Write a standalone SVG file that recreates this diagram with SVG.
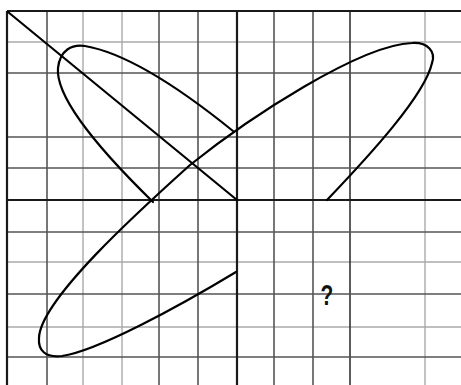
<svg xmlns="http://www.w3.org/2000/svg" width="461" height="385" viewBox="0 0 461 385">
<style>
.g1{stroke:#1a1a1a;stroke-width:2.2}
.g2{stroke:#555;stroke-width:1.6}
.g3{stroke:#aaa;stroke-width:1.4}
.c{fill:none;stroke:#000;stroke-width:2.2;stroke-linecap:round;stroke-linejoin:round}
</style>
<rect width="461" height="385" fill="#fff"/>
<g id="grid">
<line class="g3" x1="83" y1="11" x2="83" y2="385"/>
<line class="g3" x1="122" y1="11" x2="122" y2="385"/>
<line class="g3" x1="425" y1="11" x2="425" y2="385"/>
<line class="g3" x1="7" y1="42" x2="461" y2="42"/>
<line class="g3" x1="7" y1="262" x2="461" y2="262"/>
<line class="g3" x1="7" y1="327" x2="461" y2="327"/>
<line class="g2" x1="47" y1="11" x2="47" y2="385"/>
<line class="g2" x1="159" y1="11" x2="159" y2="385"/>
<line class="g2" x1="198" y1="11" x2="198" y2="385"/>
<line class="g2" x1="274" y1="11" x2="274" y2="385"/>
<line class="g2" x1="313" y1="11" x2="313" y2="385"/>
<line class="g2" x1="350" y1="11" x2="350" y2="385" style="stroke:#333"/>
<line class="g2" x1="7" y1="73" x2="461" y2="73"/>
<line class="g2" x1="7" y1="137" x2="461" y2="137"/>
<line class="g2" x1="7" y1="168" x2="461" y2="168"/>
<line class="g2" x1="7" y1="232" x2="461" y2="232"/>
<line class="g2" x1="7" y1="294" x2="461" y2="294"/>
<line class="g2" x1="7" y1="357" x2="461" y2="357"/>
<line class="g1" x1="7" y1="11" x2="7" y2="385"/>
<line class="g1" x1="237" y1="11" x2="237" y2="385"/>
<line class="g1" x1="7" y1="11" x2="461" y2="11"/>
<line class="g1" x1="7" y1="200" x2="461" y2="200"/>
</g>
<g id="curves">
<path class="c" d="M8,12 L237,200"/>
<path class="c" d="M153,202 C 110,160 55,100 58,68 C 60,50 72,44 85,46 C 120,52 170,80 233,131"/>
<path class="c" d="M236,272 C 178,307 97,351 62,356 C 45,358 38,350 39,338 C 40,300 140,210 190,165 C 250,117 360,45 412,43 C 428,42 436,52 432,63 C 425,95 370,155 327,200"/>
</g>
<g id="label">
<text transform="translate(327,305) scale(0.72,1)" font-family="Liberation Sans, Arial, sans-serif" font-weight="bold" font-size="29" text-anchor="middle" fill="#111">?</text>
</g>
</svg>
